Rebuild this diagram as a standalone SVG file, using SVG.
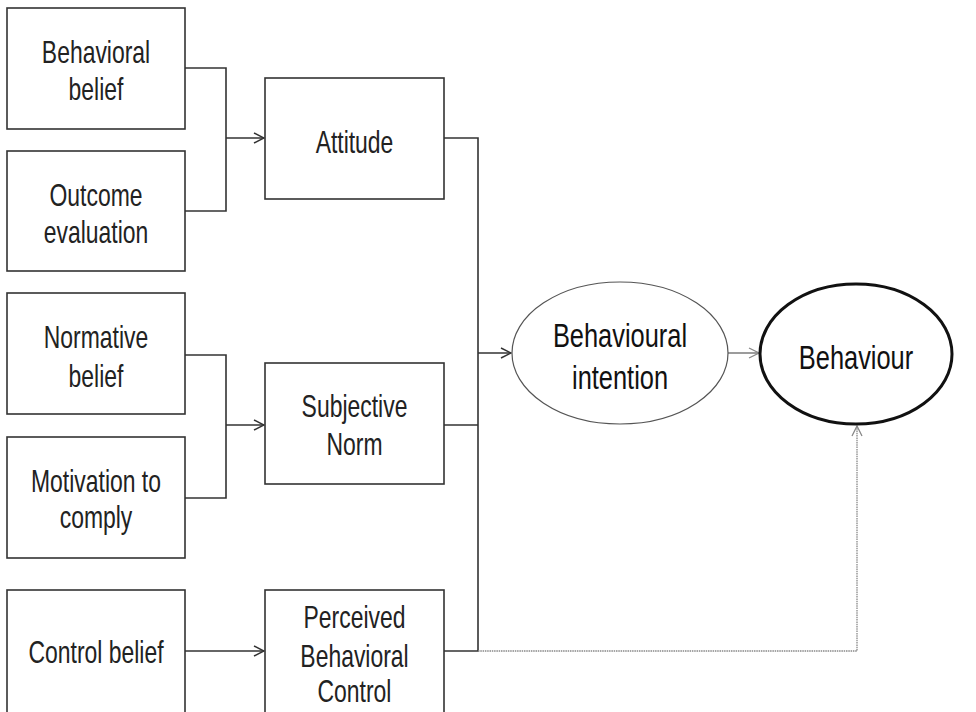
<svg xmlns="http://www.w3.org/2000/svg" width="976" height="712" viewBox="0 0 976 712">
<defs>
<style>
.box{fill:#fff;stroke:#333;stroke-width:1.6}
.t{font-family:"Liberation Sans",Arial,sans-serif;font-size:31px;fill:#222;text-anchor:middle}
.tb{font-family:"Liberation Sans",Arial,sans-serif;font-size:33px;fill:#111;text-anchor:middle}
.c{fill:none;stroke:#333;stroke-width:1.6}
</style>
<marker id="ah" viewBox="0 0 12 12" refX="11" refY="6" markerWidth="12" markerHeight="12" markerUnits="userSpaceOnUse" orient="auto">
<path d="M1,1 L11,6 L1,11" fill="none" stroke="#333" stroke-width="1.5"/>
</marker>
<marker id="ahg" viewBox="0 0 12 12" refX="11" refY="6" markerWidth="12" markerHeight="12" markerUnits="userSpaceOnUse" orient="auto">
<path d="M1,1 L11,6 L1,11" fill="none" stroke="#888" stroke-width="1.3"/>
</marker>
</defs>
<rect width="976" height="712" fill="#fff"/>
<g id="connectors">
<path class="c" d="M185,68 H226 V211 H185"/>
<path class="c" d="M226,138 H264" marker-end="url(#ah)"/>
<path class="c" d="M185,355 H226 V498 H185"/>
<path class="c" d="M226,425 H264" marker-end="url(#ah)"/>
<path class="c" d="M185,651 H264" marker-end="url(#ah)"/>
<path class="c" d="M444,138 H478 V651 H444"/>
<path class="c" d="M444,425 H478"/>
<path class="c" d="M478,353 H511" marker-end="url(#ah)"/>
<path d="M728,353 H759" fill="none" stroke="#666" stroke-width="1.3" marker-end="url(#ahg)"/>
<path d="M478,651 H857 V426" fill="none" stroke="#888" stroke-width="1.3" stroke-dasharray="1.5,0.8" marker-end="url(#ahg)"/>
</g>
<g id="behavioral-belief"><rect class="box" x="7" y="8" width="178" height="121"/><text class="t" transform="translate(96,0) scale(0.74,1)" y="63">Behavioral</text><text class="t" transform="translate(96,0) scale(0.74,1)" y="100">belief</text></g>
<g id="outcome-evaluation"><rect class="box" x="7" y="151" width="178" height="120"/><text class="t" transform="translate(96,0) scale(0.74,1)" y="206">Outcome</text><text class="t" transform="translate(96,0) scale(0.74,1)" y="243">evaluation</text></g>
<g id="attitude"><rect class="box" x="265" y="78" width="179" height="121"/><text class="t" transform="translate(354.5,0) scale(0.74,1)" y="153">Attitude</text></g>
<g id="normative-belief"><rect class="box" x="7" y="293" width="178" height="121"/><text class="t" transform="translate(96,0) scale(0.74,1)" y="348">Normative</text><text class="t" transform="translate(96,0) scale(0.74,1)" y="387">belief</text></g>
<g id="motivation-to-comply"><rect class="box" x="7" y="437" width="178" height="121"/><text class="t" transform="translate(96,0) scale(0.74,1)" y="492">Motivation to</text><text class="t" transform="translate(96,0) scale(0.74,1)" y="528">comply</text></g>
<g id="subjective-norm"><rect class="box" x="265" y="363" width="179" height="121"/><text class="t" transform="translate(354.5,0) scale(0.74,1)" y="417">Subjective</text><text class="t" transform="translate(354.5,0) scale(0.74,1)" y="455">Norm</text></g>
<g id="control-belief"><rect class="box" x="7" y="590" width="178" height="140"/><text class="t" transform="translate(96,0) scale(0.74,1)" y="663">Control belief</text></g>
<g id="perceived-behavioral-control"><rect class="box" x="265" y="590" width="179" height="140"/><text class="t" transform="translate(354.5,0) scale(0.74,1)" y="628">Perceived</text><text class="t" transform="translate(354.5,0) scale(0.74,1)" y="667">Behavioral</text><text class="t" transform="translate(354.5,0) scale(0.74,1)" y="702">Control</text></g>
<g id="behavioural-intention"><ellipse cx="620" cy="353" rx="108" ry="71" fill="#fff" stroke="#555" stroke-width="1.2"/><text class="tb" transform="translate(620,0) scale(0.77,1)" y="347">Behavioural</text><text class="tb" transform="translate(620,0) scale(0.77,1)" y="389">intention</text></g>
<g id="behaviour"><ellipse cx="856" cy="354" rx="96" ry="70" fill="#fff" stroke="#111" stroke-width="3"/><text class="tb" transform="translate(856,0) scale(0.77,1)" y="369">Behaviour</text></g>
</svg>
